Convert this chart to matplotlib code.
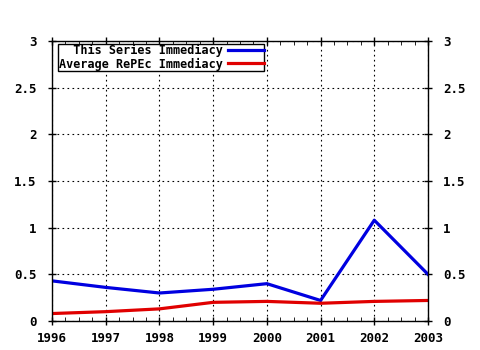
import numpy as np
import matplotlib
matplotlib.use("Agg")
import matplotlib.pyplot as plt
from matplotlib.ticker import MultipleLocator

years = [1996, 1997, 1998, 1999, 2000, 2001, 2002, 2003]
series_immediacy = [0.43, 0.36, 0.30, 0.34, 0.40, 0.22, 1.08, 0.50]
repec_immediacy = [0.08, 0.10, 0.13, 0.20, 0.21, 0.19, 0.21, 0.22]
y_ticks = [0, 0.5, 1, 1.5, 2, 2.5, 3]
y_labels = ["0", "0.5", "1", "1.5", "2", "2.5", "3"]

plt.rcParams['font.family'] = ['DejaVu Sans Mono']
plt.rcParams['font.weight'] = 'bold'
plt.rcParams['font.size'] = 9

fig = plt.figure(figsize=(4.8, 3.5), dpi=100)
ax = fig.add_axes([52 / 480, 29 / 350, 376 / 480, 280 / 350])

ax.plot(years, series_immediacy, color='#0000e0', lw=2.3, label='  This Series Immediacy')
ax.plot(years, repec_immediacy, color='#e00000', lw=2.3, label='Average RePEc Immediacy')

ax.set_xlim(1996, 2003)
ax.set_ylim(0, 3)
ax.set_xticks(years)
ax.set_xticklabels([str(y) for y in years])
ax.xaxis.set_minor_locator(MultipleLocator(0.25))
ax.set_yticks(y_ticks)
ax.set_yticklabels(y_labels)

ax.tick_params(axis='both', which='major', direction='inout', length=6, width=1,
               top=True, right=True, labelright=True, pad=8)
ax.tick_params(axis='x', which='major', pad=5)
ax.tick_params(axis='x', which='minor', direction='in', length=3, top=True)
ax.grid(True, color='black', linestyle=(0, (1.5, 3)), lw=0.8)
for s in ax.spines.values():
    s.set_linewidth(1)

leg = ax.legend(loc='upper left', bbox_to_anchor=(0.016, 0.99), markerfirst=False,
                frameon=True, fancybox=False, edgecolor='black', framealpha=1,
                handlelength=3, borderpad=0.05, labelspacing=0.0, handletextpad=0.5,
                borderaxespad=0, prop={'size': 8.5})
leg.get_frame().set_linewidth(1)

fig.savefig('out.png', dpi=100)
